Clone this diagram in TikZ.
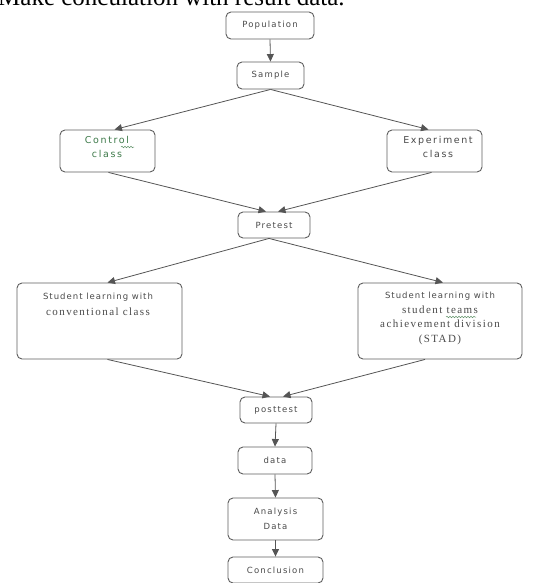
\documentclass[tikz,border=0pt]{standalone}
\usepackage{fontspec}
\setmainfont{Liberation Serif}
\newfontfamily\boxfont[LetterSpace=14]{DejaVu Sans}
\newfontfamily\wideboxfont[LetterSpace=17]{DejaVu Sans}
\newfontfamily\narrowboxfont[LetterSpace=12]{DejaVu Sans}
\newfontfamily\serifbox[LetterSpace=13]{Liberation Serif}
\usetikzlibrary{arrows.meta,calc,decorations.pathmorphing}
\definecolor{linegray}{HTML}{555555}
\definecolor{boxgray}{HTML}{5E5E5E}
\definecolor{txtgray}{HTML}{4A4A4A}
\definecolor{ctrlgreen}{HTML}{3E7A4A}
\begin{document}
\begin{tikzpicture}[x=1pt,y=1pt,
  box/.style={draw=boxgray,line width=0.9pt,rounded corners=5pt,fill=white,
    minimum width=#1,inner sep=0pt,font=\boxfont\fontsize{8.5}{14.5}\selectfont,text=txtgray,align=center},
  box/.default=60pt,
  lbl/.style={anchor=north,inner sep=0pt,text=txtgray,align=center},
  arr/.style={draw=linegray,line width=0.8pt,-{Triangle[length=7.5pt,width=7pt]}},
  squig/.style={draw=ctrlgreen!80,line width=0.5pt,decorate,decoration={snake,amplitude=0.8pt,segment length=3pt}}]
\useasboundingbox (0,0) rectangle (537,-583);
\clip (0,0) rectangle (537,-583);
% heading (cut by the top edge)
\node[anchor=base west,inner sep=0pt,font=\fontsize{25}{27}\selectfont,text=black] (head) at (-2,-6) {Make conculation with result data.};
% boxes
\node[box=88pt,minimum height=27pt] (pop) at (270,-25.5) {Population};
\node[box=67pt,minimum height=27pt] (sample) at (270.5,-75.5) {Sample};
\node[box=95pt,minimum height=42pt] (control) at (107.5,-151) {};
\node[lbl,font=\wideboxfont\fontsize{9.5}{14}\selectfont,text=ctrlgreen] (ctrltext) at (107,-136) {Control\\class};
\node[box=95pt,minimum height=42pt] (exper) at (434.5,-151) {};
\node[lbl,font=\wideboxfont\fontsize{9.5}{14}\selectfont] (expertext) at (438,-136) {Experiment\\class};
\node[box=72pt,minimum height=26pt] (pretest) at (274,-225) {Pretest};
\node[box=165pt,minimum height=76pt] (left) at (99.5,-321) {};
\node[lbl,font=\narrowboxfont\fontsize{8.5}{15.5}\selectfont] (lefttext) at (98,-293) {Student learning with\\{\serifbox\fontsize{11}{15.5}\selectfont conventional class}};
\node[box=164pt,minimum height=76pt] (right) at (440,-321) {};
\node[lbl,font=\serifbox\fontsize{11}{14.5}\selectfont] (righttext) at (440,-292) {{\narrowboxfont\fontsize{8.5}{14.5}\selectfont Student learning with}\\student teams\\achievement division\\(STAD)};
\node[box=72pt,minimum height=26pt] (post) at (276,-410) {posttest};
\node[box=74pt,minimum height=27pt] (data) at (275,-460.5) {data};
\node[box=95pt,minimum height=42pt,font=\boxfont\fontsize{8.5}{15}\selectfont] (analysis) at (275.5,-519) {Analysis\\Data};
\node[box=95pt,minimum height=26pt] (concl) at (275.5,-570) {Conclusion};
% spell-check squiggles
\coordinate (sqa) at (121,-147);
\coordinate (sqb) at (134,-147);
\draw[squig] (sqa) -- (sqb);
\coordinate (sqc) at (446,-317);
\coordinate (sqd) at (476,-317);
\draw[squig] (sqc) -- (sqd);
% connectors
\draw[arr] (pop.south) -- (sample.north);
\draw[arr] (sample.south) -- ($(control.north)+(7,0)$);
\draw[arr] (sample.south) -- ($(exper.north)+(-6,0)$);
\draw[arr] ($(control.south)+(1,0)$) -- ($(pretest.north)+(-8,0)$);
\draw[arr] ($(exper.south)+(-3,0)$) -- ($(pretest.north)+(4,0)$);
\draw[arr] ($(pretest.south)+(-5,0)$) -- ($(left.north)+(8,0)$);
\draw[arr] ($(pretest.south)+(-5,0)$) -- ($(right.north)+(3,0)$);
\draw[arr] ($(left.south)+(8,0)$) -- ($(post.north)+(-6,0)$);
\draw[arr] ($(right.south)+(-15,0)$) -- ($(post.north)+(7,0)$);
\draw[arr] (post.south) -- (data.north);
\draw[arr] (data.south) -- (analysis.north);
\draw[arr] (analysis.south) -- (concl.north);
\end{tikzpicture}
\end{document}
